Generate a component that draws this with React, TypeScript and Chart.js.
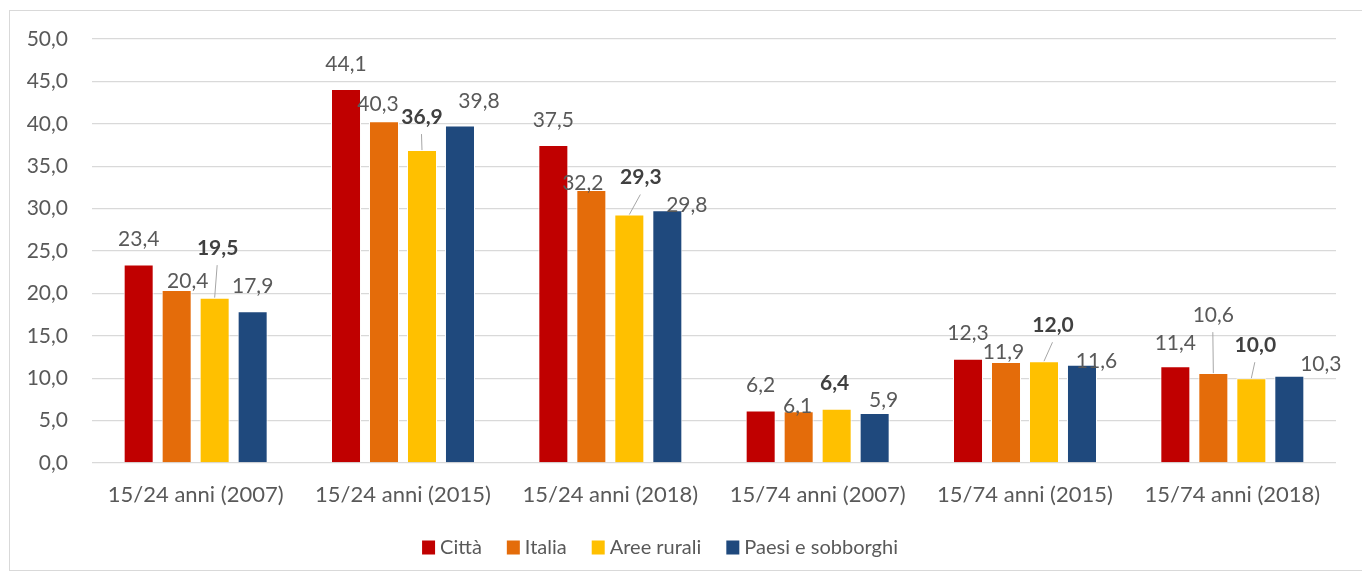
import React, { useEffect, useRef } from "react";
import { Chart, registerables } from "chart.js";

Chart.register(...registerables);

const categories = [
  "15/24 anni (2007)",
  "15/24 anni (2015)",
  "15/24 anni (2018)",
  "15/74 anni (2007)",
  "15/74 anni (2015)",
  "15/74 anni (2018)",
];
const seriesNames = ["Città", "Italia", "Aree rurali", "Paesi e sobborghi"];
const citta = [23.4, 44.1, 37.5, 6.2, 12.3, 11.4];
const italia = [20.4, 40.3, 32.2, 6.1, 11.9, 10.6];
const areeRurali = [19.5, 36.9, 29.3, 6.4, 12.0, 10.0];
const paesi = [17.9, 39.8, 29.8, 5.9, 11.6, 10.3];
const yMin = 0;
const yMax = 50;
const yStep = 5;

const seriesColors = ["#C00000", "#E46C0A", "#FFC000", "#1F497D"];
const boldSeries = [false, false, true, false];

// label nudges [dx, dy] (px) relative to the default spot above each bar
const labelNudges = [
  [[0, 0], [0, 0], [0, 0], [0, 0], [0, 0], [0, 2]],
  [[11, 16], [-6, 8], [-8.5, 18], [-1, 20], [-2.5, 15.5], [0, -33]],
  [[3, -24.5], [0, -8], [11.5, -12], [-2, 0], [9, -11], [4, -8]],
  [[0, 0], [19, 1], [19.5, 20], [9, 12], [14.5, 21.5], [31.5, 14]],
];

const FONT = "Lato, 'Open Sans', sans-serif";
const TEXT = "#595959";
const fmt = (v: number) => v.toFixed(1).replace(".", ",");

const labelPlugin = {
  id: "valueLabels",
  afterDatasetsDraw(chart: any) {
    const ctx = chart.ctx;
    ctx.save();
    ctx.textAlign = "center";
    ctx.textBaseline = "middle";
    chart.data.datasets.forEach((ds: any, i: number) => {
      const meta = chart.getDatasetMeta(i);
      meta.data.forEach((bar: any, j: number) => {
        const v = ds.data[j] as number;
        const [dx, dy] = labelNudges[i][j];
        const cx = bar.x + dx;
        const cy = bar.y - 25 + dy;
        if (dy < -5) {
          ctx.strokeStyle = "#a6a6a6";
          ctx.lineWidth = 1;
          ctx.beginPath();
          ctx.moveTo(bar.x, bar.y);
          ctx.lineTo(cx - 0.5, cy + 17);
          ctx.stroke();
        }
        ctx.font = `${boldSeries[i] ? "bold " : ""}21px ${FONT}`;
        ctx.fillStyle = boldSeries[i] ? "#404040" : TEXT;
        ctx.fillText(fmt(v), cx, cy);
      });
    });
    ctx.restore();
  },
};

const legendPlugin = {
  id: "customLegend",
  afterDraw(chart: any) {
    const ctx = chart.ctx;
    ctx.save();
    ctx.font = `20px ${FONT}`;
    ctx.textBaseline = "middle";
    ctx.textAlign = "left";
    const box = 13;
    const gap = 5;
    const itemGap = 25;
    const widths = seriesNames.map((n) => box + gap + ctx.measureText(n).width);
    const total = widths.reduce((a, b) => a + b, 0) + itemGap * (widths.length - 1);
    let x = chart.width / 2 - 26 - total / 2;
    const y = chart.chartArea.bottom + 84;
    seriesNames.forEach((n, i) => {
      ctx.fillStyle = seriesColors[i];
      ctx.fillRect(x, y - box / 2, box, box + 1);
      ctx.fillStyle = TEXT;
      ctx.fillText(n, x + box + gap, y + 1);
      x += widths[i] + itemGap;
    });
    ctx.restore();
  },
};

export default function App() {
  const ref = useRef<HTMLCanvasElement | null>(null);
  useEffect(() => {
    if (!ref.current) return;
    const seriesData = [citta, italia, areeRurali, paesi];
    const chart = new Chart(ref.current, {
      type: "bar",
      data: {
        labels: categories,
        datasets: seriesNames.map((name, i) => ({
          label: name,
          data: seriesData[i],
          backgroundColor: seriesColors[i],
          borderColor: "#ffffff",
          borderWidth: 1,
          categoryPercentage: 0.733,
          barPercentage: 0.79,
        })),
      },
      options: {
        responsive: false,
        animation: false,
        layout: { padding: { left: 0, right: 26, top: 28, bottom: 0 } },
        plugins: {
          legend: { display: false },
          tooltip: { enabled: false },
        },
        scales: {
          x: {
            grid: { display: false },
            border: { display: false },
            ticks: {
              color: TEXT,
              font: { family: FONT, size: 22 },
              padding: 11,
              maxRotation: 0,
            },
            afterFit: (s: any) => {
              s.height = 107;
            },
          },
          y: {
            min: yMin,
            max: yMax,
            border: { display: false },
            grid: {
              color: "#d9d9d9",
              lineWidth: 1.3,
              drawTicks: true,
              tickLength: 24,
              tickColor: "rgba(0,0,0,0)",
            },
            ticks: {
              stepSize: yStep,
              color: TEXT,
              font: { family: FONT, size: 21 },
              padding: 0,
              callback: (v: any) => fmt(Number(v)),
            },
            afterFit: (s: any) => {
              s.width = 82;
            },
          },
        },
      },
      plugins: [labelPlugin, legendPlugin],
    });
    return () => chart.destroy();
  }, []);

  return (
    <div style={{ paddingTop: 2, paddingLeft: 1 }}>
      <div
        style={{
          width: 1352,
          height: 559,
          border: "1px solid #d9d9d9",
          background: "#ffffff",
        }}
      >
        <canvas ref={ref} width={1352} height={559} style={{ display: "block" }} />
      </div>
    </div>
  );
}
